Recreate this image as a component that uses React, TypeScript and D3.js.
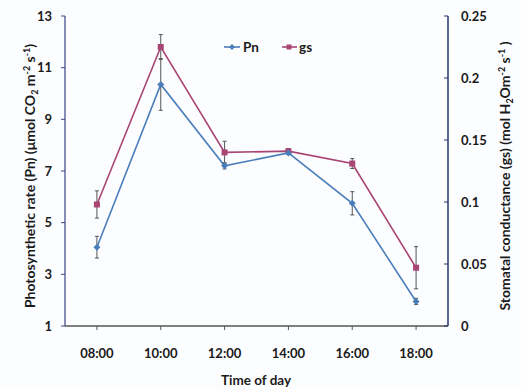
import React from "react";
import * as d3 from "d3";

const times = ["08:00", "10:00", "12:00", "14:00", "16:00", "18:00"];
const pnValues = [4.05, 10.35, 7.2, 7.7, 5.75, 1.95];
const pnErrors = [0.42, 1.0, 0.12, 0.05, 0.45, 0.12];
const gsValues = [0.098, 0.225, 0.14, 0.141, 0.131, 0.047];
const gsErrors = [0.011, 0.01, 0.009, 0.002, 0.004, 0.017];
const pnTicks = [1, 3, 5, 7, 9, 11, 13];
const gsTicks = [0, 0.05, 0.1, 0.15, 0.2, 0.25];

const W = 521;
const H = 390;
const left = 65;
const right = 448;
const top = 16;
const bottom = 326;

const FONT = "Lato, 'Open Sans', sans-serif";
const PN_COLOR = "#4a7ebb";
const GS_COLOR = "#a84574";
const AXIS_COLOR = "#3a4580";

export default function App() {
  const x = d3.scaleBand<string>().domain(times).range([left, right]).padding(0);
  const cx = (t: string) => (x(t) as number) + x.bandwidth() / 2;
  const yL = d3.scaleLinear().domain([1, 13]).range([bottom, top]);
  const yR = d3.scaleLinear().domain([0, 0.25]).range([bottom, top]);

  const pnLine = d3
    .line<number>()
    .x((_, i) => cx(times[i]))
    .y((d) => yL(d));
  const gsLine = d3
    .line<number>()
    .x((_, i) => cx(times[i]))
    .y((d) => yR(d));

  const diamond = (px: number, py: number, r: number) =>
    `M${px},${py - r}L${px + r},${py}L${px},${py + r}L${px - r},${py}Z`;

  return (
    <svg
      width={W}
      height={H}
      style={{ position: "absolute", left: 0, top: 0, background: "#fcfdff" }}
      fontFamily={FONT}
      fontWeight="bold"
    >
      {/* axes */}
      <line x1={left} x2={left} y1={top} y2={bottom} stroke={AXIS_COLOR} strokeWidth={1.2} />
      <line x1={right} x2={right} y1={top} y2={bottom} stroke="#2a3570" strokeWidth={1.5} />
      <line x1={left} x2={right} y1={bottom} y2={bottom} stroke="#555" strokeWidth={1.5} />

      {pnTicks.map((t) => (
        <g key={"l" + t}>
          <line x1={left - 4} x2={left} y1={yL(t)} y2={yL(t)} stroke={AXIS_COLOR} strokeWidth={1} />
          <text x={left - 13} y={yL(t)} dy="0.35em" textAnchor="end" fontSize={13} fill="#1a1a1a">
            {t}
          </text>
        </g>
      ))}
      {gsTicks.map((t) => (
        <g key={"r" + t}>
          <line x1={right - 4} x2={right} y1={yR(t)} y2={yR(t)} stroke="#2a3570" strokeWidth={1} />
          <text x={right + 13} y={yR(t)} dy="0.35em" textAnchor="start" fontSize={13} fill="#1a1a1a">
            {t}
          </text>
        </g>
      ))}
      {times.map((t) => (
        <g key={"x" + t}>
          <line x1={cx(t)} x2={cx(t)} y1={bottom} y2={bottom + 4} stroke="#555" strokeWidth={1} />
          <text x={cx(t)} y={bottom + 27} dy="0.35em" textAnchor="middle" fontSize={13} fill="#1a1a1a">
            {t}
          </text>
        </g>
      ))}

      {/* axis titles */}
      <text x={256} y={380} dy="0.35em" textAnchor="middle" fontSize={13.5} fill="#1a1a1a">
        Time of day
      </text>
      <text
        transform={`translate(30,${(top + bottom) / 2 + 5}) rotate(-90)`}
        textAnchor="middle"
        dy="0.35em"
        fontSize={14}
        fill="#1a1a1a"
      >
        Photosynthetic rate (Pn) (μmol CO<tspan fontSize={9} dy="3">2</tspan>
        <tspan dy="-3"> m</tspan>
        <tspan fontSize={9} dy="-5">-2</tspan>
        <tspan dy="5"> s</tspan>
        <tspan fontSize={9} dy="-5">-1</tspan>
        <tspan dy="5">)</tspan>
      </text>
      <text
        transform={`translate(505,${(top + bottom) / 2 + 5}) rotate(-90)`}
        textAnchor="middle"
        dy="0.35em"
        fontSize={14}
        fill="#1a1a1a"
      >
        Stomatal conductance (gs) (mol H<tspan fontSize={9} dy="3">2</tspan>
        <tspan dy="-3">Om</tspan>
        <tspan fontSize={9} dy="-5">-2</tspan>
        <tspan dy="5"> s</tspan>
        <tspan fontSize={9} dy="-5">-1</tspan>
        <tspan dy="5"> )</tspan>
      </text>

      {/* series lines */}
      <path d={gsLine(gsValues) || ""} fill="none" stroke={GS_COLOR} strokeWidth={1.6} />
      <path d={pnLine(pnValues) || ""} fill="none" stroke={PN_COLOR} strokeWidth={1.6} />

      {/* error bars */}
      {gsValues.map((v, i) => {
        const px = cx(times[i]);
        const y1 = yR(v - gsErrors[i]);
        const y2 = yR(v + gsErrors[i]);
        return (
          <g key={"ge" + i} stroke="#555" strokeWidth={1}>
            <line x1={px} x2={px} y1={y1} y2={y2} />
            <line x1={px - 2} x2={px + 2} y1={y1} y2={y1} />
            <line x1={px - 2} x2={px + 2} y1={y2} y2={y2} />
          </g>
        );
      })}
      {pnValues.map((v, i) => {
        const px = cx(times[i]);
        const y1 = yL(v - pnErrors[i]);
        const y2 = yL(v + pnErrors[i]);
        return (
          <g key={"pe" + i} stroke="#555" strokeWidth={1}>
            <line x1={px} x2={px} y1={y1} y2={y2} />
            <line x1={px - 2} x2={px + 2} y1={y1} y2={y1} />
            <line x1={px - 2} x2={px + 2} y1={y2} y2={y2} />
          </g>
        );
      })}

      {/* markers */}
      {gsValues.map((v, i) => (
        <rect key={"gm" + i} x={cx(times[i]) - 3} y={yR(v) - 3} width={6} height={6} fill={GS_COLOR} />
      ))}
      {pnValues.map((v, i) => (
        <path key={"pm" + i} d={diamond(cx(times[i]), yL(v), 3.5)} fill={PN_COLOR} />
      ))}

      {/* legend */}
      <g>
        <line x1={224} x2={240} y1={47} y2={47} stroke={PN_COLOR} strokeWidth={1.6} />
        <path d={diamond(232, 47, 3)} fill={PN_COLOR} />
        <text x={243} y={47} dy="0.35em" fontSize={13.5} fill="#1a1a1a">
          Pn
        </text>
        <line x1={282} x2={297} y1={47} y2={47} stroke={GS_COLOR} strokeWidth={1.6} />
        <rect x={286.5} y={44.5} width={5} height={5} fill={GS_COLOR} />
        <text x={299} y={47} dy="0.35em" fontSize={13.5} fill="#1a1a1a">
          gs
        </text>
      </g>
    </svg>
  );
}
